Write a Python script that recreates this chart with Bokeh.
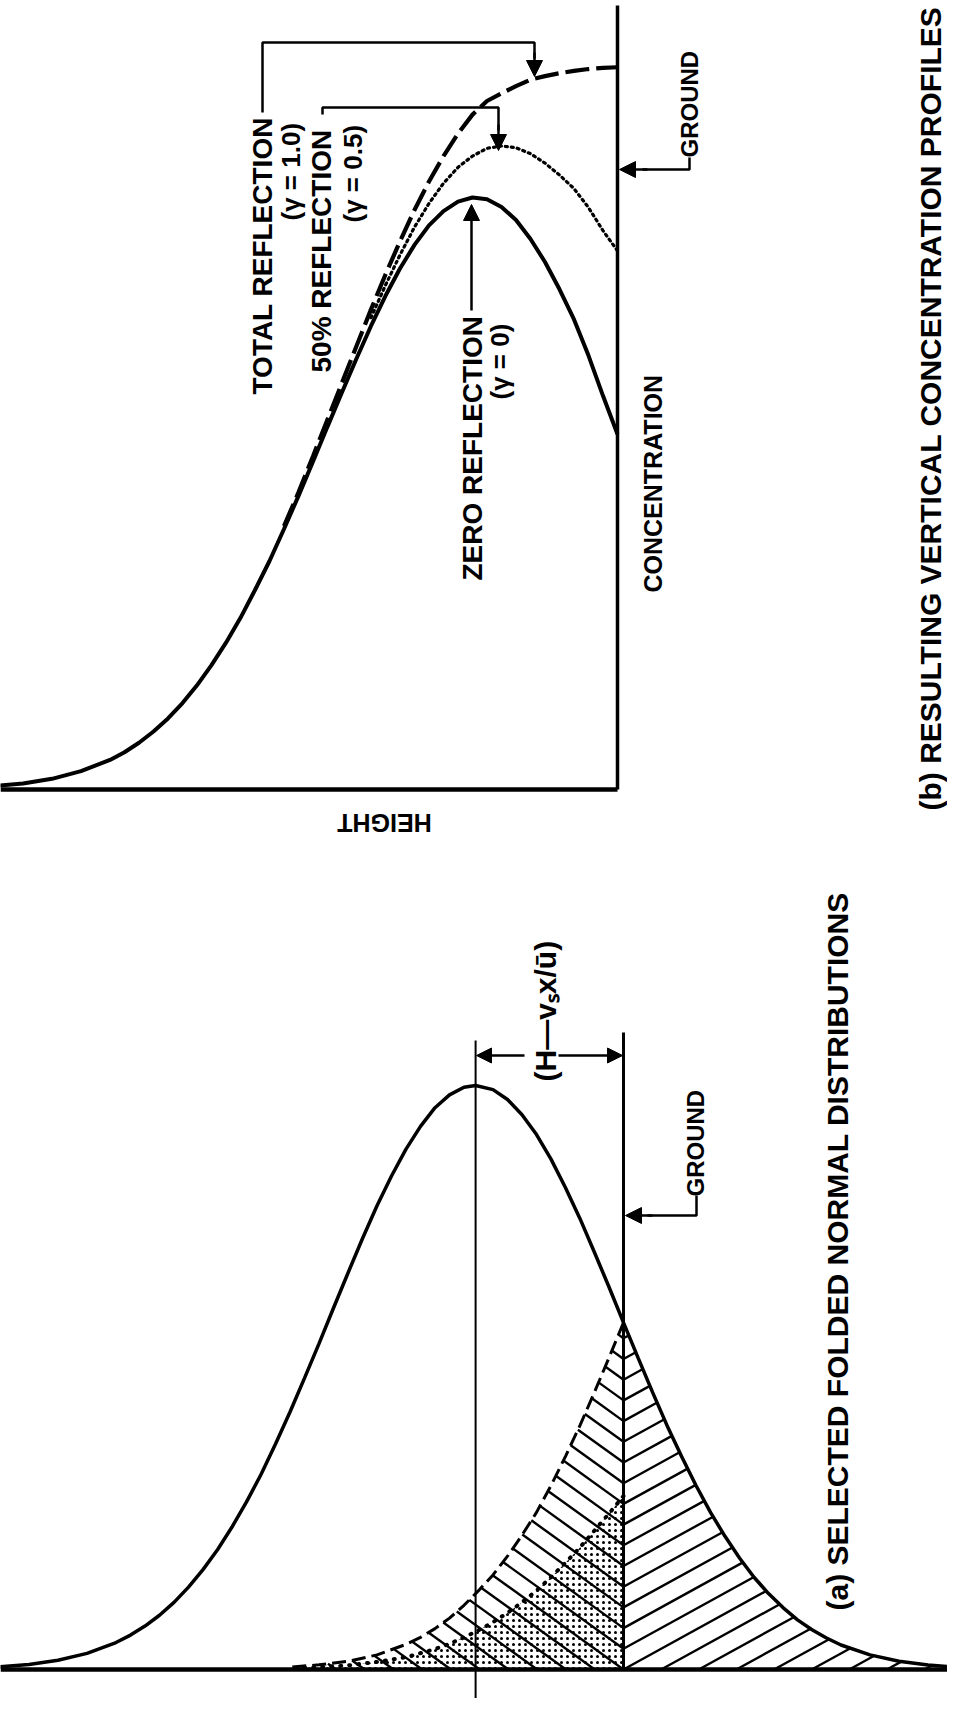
import numpy as np
from bokeh.plotting import figure
from bokeh.layouts import column
from bokeh.models import Range1d, Label, Arrow, NormalHead
from bokeh.embed import file_html
from bokeh.resources import INLINE

# ---------------- data ----------------
# heights above ground in units of sigma, concentrations relative to plume peak
# (b) resulting vertical concentration profiles
b_height = [4.3, 4.1, 3.9, 3.7, 3.5, 3.4, 3.3, 3.2, 3.1, 3.0, 2.9, 2.8, 2.7, 2.6,
            2.5, 2.4, 2.3, 2.2, 2.1, 2.0, 1.9, 1.8, 1.7, 1.6, 1.5, 1.4, 1.3, 1.2,
            1.1, 1.0, 0.9, 0.8, 0.7, 0.6, 0.5, 0.4, 0.3, 0.2, 0.1, 0.0]
b_zero = [0.006, 0.010, 0.018, 0.031, 0.050, 0.063, 0.079, 0.098, 0.120, 0.146,
          0.176, 0.210, 0.248, 0.290, 0.337, 0.386, 0.440, 0.496, 0.554, 0.613,
          0.671, 0.728, 0.783, 0.834, 0.880, 0.920, 0.953, 0.977, 0.993, 1.0,
          0.997, 0.984, 0.962, 0.930, 0.891, 0.845, 0.794, 0.733, 0.665, 0.600]
b_total_height = [2.3, 2.2, 2.1, 2.0, 1.9, 1.8, 1.7, 1.6, 1.5, 1.4, 1.3, 1.2, 1.1,
                  1.0, 0.9, 0.8, 0.7, 0.6, 0.5, 0.4, 0.3, 0.2, 0.1, 0.0]
b_total = [0.445, 0.502, 0.563, 0.625, 0.687, 0.749, 0.811, 0.870, 0.926, 0.979,
           1.027, 1.070, 1.108, 1.140, 1.163, 1.176, 1.188, 1.199, 1.205, 1.210,
           1.214, 1.217, 1.219, 1.220]
b_half_height = [1.7, 1.6, 1.5, 1.4, 1.3, 1.2, 1.1, 1.0, 0.9, 0.8, 0.7, 0.6, 0.5,
                 0.4, 0.3, 0.2, 0.1, 0.0]
b_half = [0.797, 0.852, 0.903, 0.950, 0.990, 1.024, 1.051, 1.070, 1.083, 1.087,
          1.084, 1.074, 1.058, 1.038, 1.015, 0.983, 0.944, 0.910]

# (a) selected folded normal distributions (negative height = below ground)
a_height = [4.3, 4.1, 3.9, 3.7, 3.5, 3.4, 3.3, 3.2, 3.1, 3.0, 2.9, 2.8, 2.7, 2.6,
            2.5, 2.4, 2.3, 2.2, 2.1, 2.0, 1.9, 1.8, 1.7, 1.6, 1.5, 1.4, 1.3, 1.2,
            1.1, 1.02, 0.9, 0.8, 0.7, 0.6, 0.5, 0.4, 0.3, 0.2, 0.1, 0.0, -0.1,
            -0.2, -0.3, -0.4, -0.5, -0.6, -0.7, -0.8, -0.9, -1.0, -1.1, -1.2,
            -1.3, -1.4, -1.5, -1.7, -1.9, -2.1, -2.3]
a_conc = [0.0046, 0.0087, 0.0158, 0.0276, 0.0462, 0.0589, 0.0743, 0.0929, 0.115,
          0.141, 0.171, 0.205, 0.244, 0.287, 0.334, 0.386, 0.441, 0.499, 0.558,
          0.619, 0.679, 0.738, 0.794, 0.845, 0.891, 0.930, 0.962, 0.984, 0.997,
          1.0, 0.993, 0.976, 0.950, 0.916, 0.874, 0.825, 0.772, 0.714, 0.655,
          0.594, 0.534, 0.475, 0.418, 0.365, 0.315, 0.269, 0.228, 0.191, 0.158,
          0.130, 0.106, 0.085, 0.068, 0.054, 0.042, 0.025, 0.014, 0.0077, 0.004]
a_fold_height = [0.0, 0.1, 0.2, 0.3, 0.4, 0.5, 0.6, 0.7, 0.8, 0.9, 1.0, 1.1, 1.2,
                 1.3, 1.4, 1.5, 1.7, 1.9, 2.1, 2.3]
a_fold_total = [0.594, 0.534, 0.475, 0.418, 0.365, 0.315, 0.269, 0.230, 0.194,
                0.162, 0.135, 0.110, 0.088, 0.070, 0.055, 0.043, 0.025, 0.014,
                0.008, 0.004]
a_fold_half = [0.297, 0.267, 0.238, 0.209, 0.183, 0.158, 0.135, 0.115, 0.097,
               0.081, 0.067, 0.055, 0.044, 0.035, 0.028, 0.021, 0.013, 0.007,
               0.004, 0.002]

# ---------------- layout helpers (pixel -> data) ----------------
W = 947
HB, HA = 855, 843
SIG = 145.0


def bx(px):
    return (625 - px) / SIG


def by(py):
    return (797 - py) / 592.0


def ax(px):
    return (631 - px) / SIG


def ay(py):
    return (1677 - py) / 584.0


FONT = "Liberation Sans"


def make_fig(h, xr, yr):
    p = figure(width=W, height=h, x_range=Range1d(*xr), y_range=Range1d(*yr),
               toolbar_location=None, output_backend="svg",
               x_axis_location=None, y_axis_location=None, min_border=0)
    p.grid.visible = False
    p.outline_line_color = None
    p.background_fill_color = "white"
    p.border_fill_color = "white"
    return p


def vlabel(p, text, x, y, size, angle=np.pi / 2, align="left"):
    p.add_layout(Label(x=x, y=y, text=text, angle=angle, text_align=align,
                       text_baseline="middle", text_font=FONT,
                       text_font_style="bold", text_font_size=size,
                       text_color="black"))


def arrow(p, x0, y0, x1, y1, lw=2.5, size=16):
    p.add_layout(Arrow(x_start=x0, y_start=y0, x_end=x1, y_end=y1,
                       line_width=lw, line_color="black",
                       end=NormalHead(size=size, fill_color="black",
                                      line_color="black", line_width=1)))


# ================= panel (b) =================
pb = make_fig(HB, (bx(8), bx(955)), (by(863), by(8)))

pb.line([bx(8), 0], [0, 0], line_width=4.5, line_color="black")
pb.line([0, 0], [0, by(13)], line_width=3.5, line_color="black")

pb.line(b_height, b_zero, line_width=4, line_color="black")
pb.line(b_total_height, b_total, line_width=4.2, line_color="black", line_dash="24 7")
pb.line(b_half_height, b_half, line_width=3.2, line_color="black", line_dash="2 4",
        line_cap="round")

# total reflection pointer
pb.line([bx(270), bx(270), bx(542), bx(542)], [by(120), by(50), by(50), by(66)],
        line_width=2.5, line_color="black")
arrow(pb, bx(542), by(60), bx(542), by(84))
# 50% reflection pointer
pb.line([bx(330), bx(330), bx(506), bx(506)], [by(122), by(115), by(115), by(138)],
        line_width=2.5, line_color="black")
arrow(pb, bx(506), by(132), bx(506), by(158))
# zero reflection pointer
arrow(pb, bx(479), by(318), bx(479), by(212))
# ground pointer
pb.line([bx(697), bx(697), bx(650)], [by(165), by(177), by(177)],
        line_width=2.5, line_color="black")
arrow(pb, bx(655), by(177), bx(627), by(177))

vlabel(pb, "TOTAL REFLECTION", bx(270), by(402), "28px")
vlabel(pb, "(γ = 1.0)", bx(298), by(228), "26px")
vlabel(pb, "50% REFLECTION", bx(329), by(380), "28px")
vlabel(pb, "(γ = 0.5)", bx(360), by(230), "26px")
vlabel(pb, "ZERO REFLECTION", bx(480), by(588), "28px")
vlabel(pb, "(γ = 0)", bx(507), by(407), "26px")
vlabel(pb, "CONCENTRATION", bx(660), by(600), "25px")
vlabel(pb, "GROUND", bx(697), by(165), "24px")
vlabel(pb, "HEIGHT", bx(392), by(830), "25px", angle=np.pi, align="center")
vlabel(pb, "(b) RESULTING VERTICAL CONCENTRATION PROFILES", bx(938), by(818), "30px")

# ================= panel (a) =================
pa = make_fig(HA, (ax(8), ax(955)), (ay(1706), ay(863)))


def curve_at(zq, zs, cs):
    zs = np.asarray(zs, float)
    cs = np.asarray(cs, float)
    o = np.argsort(zs)
    return np.interp(zq, zs[o], cs[o])


SP = 20.7 / 584.0           # hatch spacing along the ground line
KR = 0.55 * SIG / 584.0     # right-hand hatch slope (data units)
KL = 0.72 * SIG / 584.0     # left-hand hatch slope
c_ground = curve_at(0.0, a_height, a_conc)

hx, hy = [], []
for k in range(-40, 40):
    cs = k * SP
    if cs >= c_ground:
        break
    # right of ground
    z0 = 0.0 if cs >= 0 else cs / KR
    if z0 > -2.25 and curve_at(z0, a_height, a_conc) > 0.004:
        zg = np.linspace(z0, -2.3, 3000)
        f = cs + KR * (-zg) - curve_at(zg, a_height, a_conc)
        idx = np.where(f >= 0)[0]
        if len(idx):
            z1 = zg[idx[0]]
            hx.append([z0, z1])
            hy.append([max(cs, 0.0), cs + KR * (-z1)])
    # left of ground (folded tail)
    z0 = 0.0 if cs >= 0 else -cs / KL
    if z0 < 2.2 and curve_at(z0, a_fold_height, a_fold_total) > 0.004:
        zg = np.linspace(z0, 2.3, 3000)
        f = cs + KL * zg - curve_at(zg, a_fold_height, a_fold_total)
        idx = np.where(f >= 0)[0]
        if len(idx):
            z1 = zg[idx[0]]
            hx.append([z0, z1])
            hy.append([max(cs, 0.0), cs + KL * z1])

pa.varea(x=a_fold_height, y1=[0] * len(a_fold_height), y2=a_fold_half,
         fill_alpha=0, hatch_pattern="dot", hatch_color="black",
         hatch_scale=6, hatch_weight=1.6)
pa.multi_line(hx, hy, line_width=2.4, line_color="black")
pa.line(a_fold_height, a_fold_half, line_width=4, line_color="black",
        line_dash="1 8", line_cap="round")
pa.line(a_fold_height, a_fold_total, line_width=3, line_color="black", line_dash="14 6")

pa.line([ax(8), ax(955)], [0, 0], line_width=4.5, line_color="black")
pa.line(a_height, a_conc, line_width=3.5, line_color="black")
pa.line([1.02, 1.02], [ay(1713), ay(1048)], line_width=2, line_color="black")
pa.line([0, 0], [0, ay(1040)], line_width=3, line_color="black")

y_dim = ay(1063)
arrow(pa, ax(532), y_dim, ax(484), y_dim, lw=2.5, size=15)
arrow(pa, ax(566), y_dim, ax(630), y_dim, lw=2.5, size=15)
vlabel(pa, "(H—vₛx/ū)", ax(553), ay(1089), "30px")

pa.line([ax(704), ax(704), ax(655)], [ay(1203), ay(1223), ay(1223)],
        line_width=2.5, line_color="black")
arrow(pa, ax(660), ay(1223), ax(633), ay(1223))
vlabel(pa, "GROUND", ax(703), ay(1204), "24px")

vlabel(pa, "(a) SELECTED FOLDED NORMAL DISTRIBUTIONS", ax(845), ay(1618), "30px")

layout = column(pb, pa, spacing=0)
open("out.html", "w").write(file_html(layout, INLINE))
